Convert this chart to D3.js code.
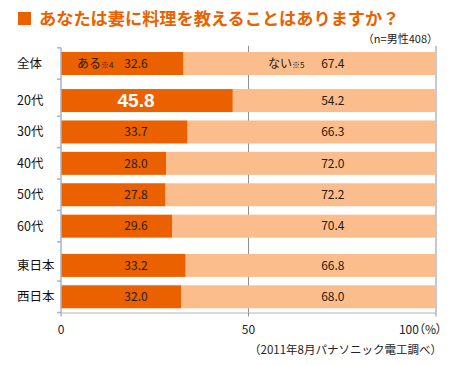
<!DOCTYPE html>
<html><head><meta charset="utf-8">
<script src="https://cdn.jsdelivr.net/npm/d3@7"></script>
<style>body{margin:0;background:#fff}svg{display:block}.palt{font-feature-settings:"palt"}</style>
</head><body><div id="chart"></div>
<script>
const categories = ["全体","20代","30代","40代","50代","60代","東日本","西日本"];
const groups = [0,1,1,1,1,1,2,2];
const yesValues = [32.6,45.8,33.7,28.0,27.8,29.6,33.2,32.0];
const noValues = [67.4,54.2,66.3,72.0,72.2,70.4,66.8,68.0];
const xTicks = [0,50,100];
const xTickLabels = ["0","50","100（%）"];
const title = "あなたは妻に料理を教えることはありますか？";
const note = "（n=男性408）";
const source = "（2011年8月パナソニック電工調べ）";

const W = 458, H = 365;
const dark = "#eb6100", light = "#fbbd8c";
const jp = "'Noto Sans CJK JP', sans-serif";
const svg = d3.select("#chart").append("svg").attr("width", W).attr("height", H);

const groupOffset = [0, 0.18, 0.43];
const slots = categories.map((c,i) => i + groupOffset[groups[i]]);
const x = d3.scaleLinear().domain([0,100]).range([61,436]);
const y = d3.scaleLinear().domain([-0.5, 7.93]).range([47.8, 312.5]);
const barH = 23;

// title
svg.append("rect").attr("x",18).attr("y",12).attr("width",13).attr("height",13).attr("fill",dark);
svg.append("text").attr("x",39).attr("y",25).attr("font-family",jp).attr("font-weight","bold")
  .attr("font-size",17.2).attr("fill",dark).text(title);
svg.append("text").attr("x",438).attr("y",43).attr("text-anchor","end").attr("font-family",jp)
  .attr("font-size",11).attr("fill","#222").text(note);

// gridlines
svg.append("g").selectAll("line").data(xTicks.slice(1)).join("line")
  .attr("x1",d=>x(d)).attr("x2",d=>x(d)).attr("y1",y(-0.5)-2).attr("y2",y(7.93))
  .attr("stroke","#8a8f99").attr("stroke-width",1);

// bars
const rows = categories.map((c,i)=>({c, yes:yesValues[i], no:noValues[i], s:slots[i]}));
const g = svg.append("g");
g.selectAll("rect.no").data(rows).join("rect").attr("class","no")
  .attr("x",d=>x(d.yes)).attr("width",d=>x(d.yes+d.no)-x(d.yes))
  .attr("y",d=>y(d.s)-barH/2).attr("height",barH).attr("fill",light);
g.selectAll("rect.yes").data(rows).join("rect").attr("class","yes")
  .attr("x",x(0)).attr("width",d=>x(d.yes)-x(0))
  .attr("y",d=>y(d.s)-barH/2).attr("height",barH).attr("fill",dark);

// axes lines
svg.append("line").attr("x1",x(0)).attr("x2",x(0)).attr("y1",y(-0.5)).attr("y2",y(7.93))
  .attr("stroke","#a9b3c4").attr("stroke-width",1.5);
svg.append("line").attr("x1",x(0)).attr("x2",x(100)).attr("y1",y(7.93)+0.5).attr("y2",y(7.93)+0.5)
  .attr("stroke","#c8ccd4").attr("stroke-width",1.5);
// y ticks at row edges
const edges = [];
rows.forEach((r,i)=>{ edges.push(r.s-0.5); if(i===rows.length-1 || groups[i+1]!==groups[i]) edges.push(r.s+0.5); });
const edgesM = edges.filter((e,i)=>!(i>0 && Math.abs(e-edges[i-1])<0.3));
svg.append("g").selectAll("line").data(edgesM).join("line")
  .attr("x1",x(0)-4).attr("x2",x(0)).attr("y1",d=>y(d)).attr("y2",d=>y(d))
  .attr("stroke","#a9b3c4").attr("stroke-width",1.5);
// x ticks
svg.append("g").selectAll("line").data(xTicks).join("line")
  .attr("x1",d=>x(d)).attr("x2",d=>x(d)).attr("y1",y(7.93)).attr("y2",y(7.93)+4)
  .attr("stroke","#8a8f99");
svg.append("g").selectAll("text").data(xTicks).join("text").attr("class","palt")
  .attr("x",(d,i)=> i===2 ? 442 : x(d)).attr("y",334)
  .attr("text-anchor",(d,i)=> i===2 ? "end" : "middle")
  .attr("font-family",jp).attr("font-size",12).attr("fill","#222")
  .text((d,i)=>xTickLabels[i]);

// category labels
svg.append("g").selectAll("text").data(rows).join("text")
  .attr("x",17).attr("y",d=>y(d.s)).attr("dy","0.36em")
  .attr("font-family",jp).attr("font-size",12.5).attr("fill","#111").text(d=>d.c);

// value labels
const yesPos = 20, noPos = 72.5;
g.selectAll("text.yv").data(rows).join("text").attr("class","yv")
  .attr("x",x(yesPos)).attr("y",d=>y(d.s)).attr("dy","0.36em").attr("text-anchor","middle")
  .attr("font-family",(d,i)=> i===1 ? "'Liberation Sans', Arial, sans-serif" : jp)
  .attr("font-weight",(d,i)=> i===1 ? "bold" : "normal")
  .attr("font-size",(d,i)=> i===1 ? 19 : 12)
  .attr("fill",(d,i)=> i===1 ? "#fff" : "#2a1a10")
  .text(d=>d.yes.toFixed(1));
g.selectAll("text.nv").data(rows).join("text").attr("class","nv")
  .attr("x",x(noPos)).attr("y",d=>y(d.s)).attr("dy","0.36em").attr("text-anchor","middle")
  .attr("font-family",jp).attr("font-size",12).attr("fill","#2a1a10")
  .text(d=>d.no.toFixed(1));

// legend-in-bar labels for 全体
const l1 = svg.append("text").attr("x",77).attr("y",y(slots[0])).attr("dy","0.36em")
  .attr("font-family",jp).attr("font-size",12).attr("fill","#2a1a10");
l1.append("tspan").text("ある");
l1.append("tspan").attr("font-size",8).text("※4");
const l2 = svg.append("text").attr("x",268).attr("y",y(slots[0])).attr("dy","0.36em")
  .attr("font-family",jp).attr("font-size",12).attr("fill","#2a1a10");
l2.append("tspan").text("ない");
l2.append("tspan").attr("font-size",8).text("※5");

// source
svg.append("text").attr("x",442).attr("y",354).attr("text-anchor","end")
  .attr("font-family",jp).attr("font-size",11.5).attr("fill","#222").text(source);
</script></body></html>
